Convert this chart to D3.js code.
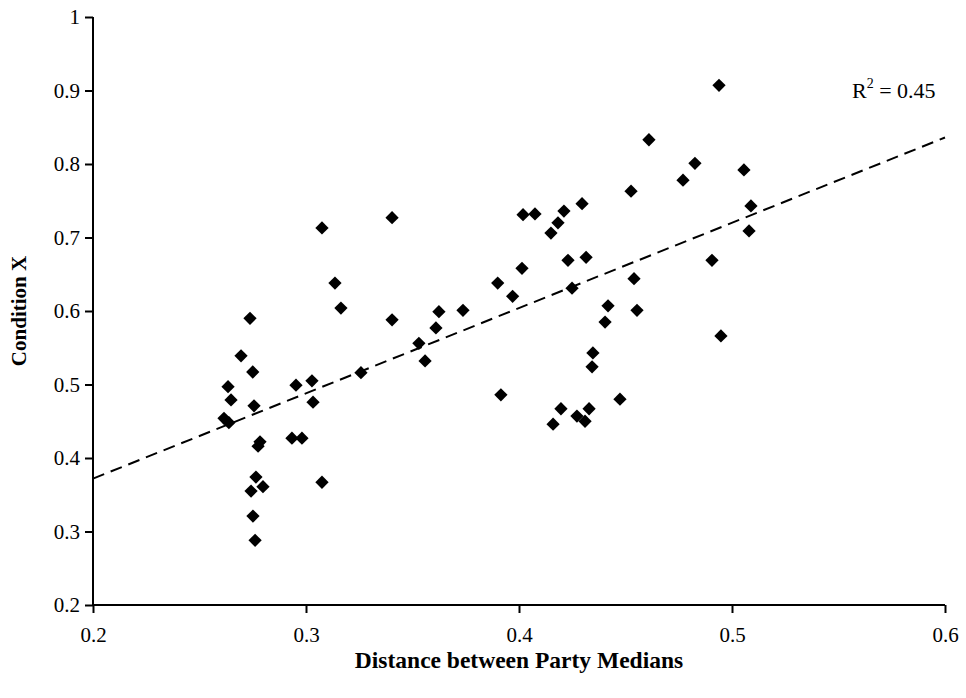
<!DOCTYPE html>
<html>
<head>
<meta charset="utf-8">
<script src="https://cdn.jsdelivr.net/npm/d3@7"></script>
<style>
  body { margin: 0; background: #fff; }
  svg { display: block; font-family: "Liberation Serif", "Times New Roman", serif; }
</style>
</head>
<body>
<div id="chart"></div>
<script>
// values
const distance = [
  0.2737, 0.2695, 0.2750, 0.2634, 0.2648, 0.2756, 0.2615, 0.2638, 0.2953, 0.3028,
  0.3033, 0.3258, 0.2784, 0.2775, 0.2934, 0.2981, 0.2765, 0.2742, 0.2798, 0.3075,
  0.2751, 0.2761,
  0.3075, 0.3404, 0.3136, 0.3164, 0.3404, 0.3624, 0.3737, 0.3610, 0.3530, 0.3559,
  0.4019, 0.4075, 0.4211, 0.4183, 0.4150, 0.4296, 0.4230, 0.4014, 0.3900, 0.3970,
  0.4249, 0.3915,
  0.4939, 0.4610, 0.4826, 0.4770, 0.5056, 0.4526, 0.5089, 0.5080, 0.4315, 0.4906,
  0.4540, 0.4418, 0.4554, 0.4404, 0.4948, 0.4347, 0.4343, 0.4197, 0.4160, 0.4272,
  0.4329, 0.4310, 0.4474
];
const conditionX = [
  0.590, 0.539, 0.517, 0.497, 0.479, 0.471, 0.454, 0.448, 0.499, 0.505,
  0.476, 0.516, 0.422, 0.416, 0.427, 0.427, 0.374, 0.355, 0.361, 0.367,
  0.321, 0.288,
  0.713, 0.727, 0.638, 0.604, 0.588, 0.599, 0.601, 0.577, 0.556, 0.532,
  0.731, 0.732, 0.736, 0.720, 0.706, 0.746, 0.669, 0.658, 0.638, 0.620,
  0.631, 0.486,
  0.907, 0.833, 0.801, 0.778, 0.792, 0.763, 0.743, 0.709, 0.673, 0.669,
  0.644, 0.607, 0.601, 0.585, 0.566, 0.543, 0.524, 0.467, 0.446, 0.457,
  0.467, 0.450, 0.480
];
const trendX = [0.2, 0.6];
const trendY = [0.372, 0.836];
const xTicks = [0.2, 0.3, 0.4, 0.5, 0.6];
const yTicks = [0.2, 0.3, 0.4, 0.5, 0.6, 0.7, 0.8, 0.9, 1];

const width = 966, height = 698;
const margin = { top: 17, right: 21, bottom: 93, left: 93 };
const serif = "Liberation Serif, Times New Roman, serif";

const svg = d3.select("#chart").append("svg")
  .attr("width", width)
  .attr("height", height);

const x = d3.scaleLinear().domain([0.2, 0.6]).range([margin.left, width - margin.right]);
const y = d3.scaleLinear().domain([0.2, 1]).range([height - margin.bottom, margin.top]);

// trend line
svg.append("line")
  .attr("x1", x(trendX[0])).attr("y1", y(trendY[0]))
  .attr("x2", x(trendX[1])).attr("y2", y(trendY[1]))
  .attr("stroke", "#000")
  .attr("stroke-width", 2)
  .attr("stroke-dasharray", "12,7");

// points
const diamond = d3.symbol().type(d3.symbolSquare).size(88);
svg.append("g")
  .selectAll("path")
  .data(distance.map((d, i) => [d, conditionX[i]]))
  .enter()
  .append("path")
  .attr("d", diamond)
  .attr("transform", d => `translate(${x(d[0])},${y(d[1])}) rotate(45)`)
  .attr("fill", "#000");

// axes
const xAxis = svg.append("g")
  .attr("transform", `translate(0,${y(0.2)})`)
  .call(d3.axisBottom(x).tickValues(xTicks).tickFormat(d3.format("")).tickSize(8).tickPadding(14));
const yAxis = svg.append("g")
  .attr("transform", `translate(${x(0.2)},0)`)
  .call(d3.axisLeft(y).tickValues(yTicks).tickFormat(d3.format("")).tickSize(8).tickPadding(5));

[xAxis, yAxis].forEach(g => {
  g.attr("font-family", serif).attr("font-size", 21);
  g.selectAll(".tick line").attr("stroke-width", 2);
  g.selectAll(".tick text").attr("fill", "#000");
  g.select(".domain").attr("stroke-width", 2);
});
// plain domain lines without end caps
xAxis.select(".domain").attr("d", `M${x(0.2)},0H${x(0.6)}`);
yAxis.select(".domain").attr("d", `M0,${y(0.2)}V${y(1)}`);

// axis titles
svg.append("text")
  .attr("x", x(0.4))
  .attr("y", 668)
  .attr("text-anchor", "middle")
  .attr("font-size", 23.5)
  .attr("font-weight", "bold")
  .text("Distance between Party Medians");

svg.append("text")
  .attr("transform", `translate(26,${y(0.6)}) rotate(-90)`)
  .attr("text-anchor", "middle")
  .attr("font-size", 21)
  .attr("font-weight", "bold")
  .text("Condition X");

// R squared label
const r2 = svg.append("text")
  .attr("x", 852)
  .attr("y", 98)
  .attr("font-size", 22);
r2.append("tspan").text("R");
r2.append("tspan").attr("font-size", 14).attr("dy", -10).text("2");
r2.append("tspan").attr("dy", 10).text(" = 0.45");
</script>
</body>
</html>
